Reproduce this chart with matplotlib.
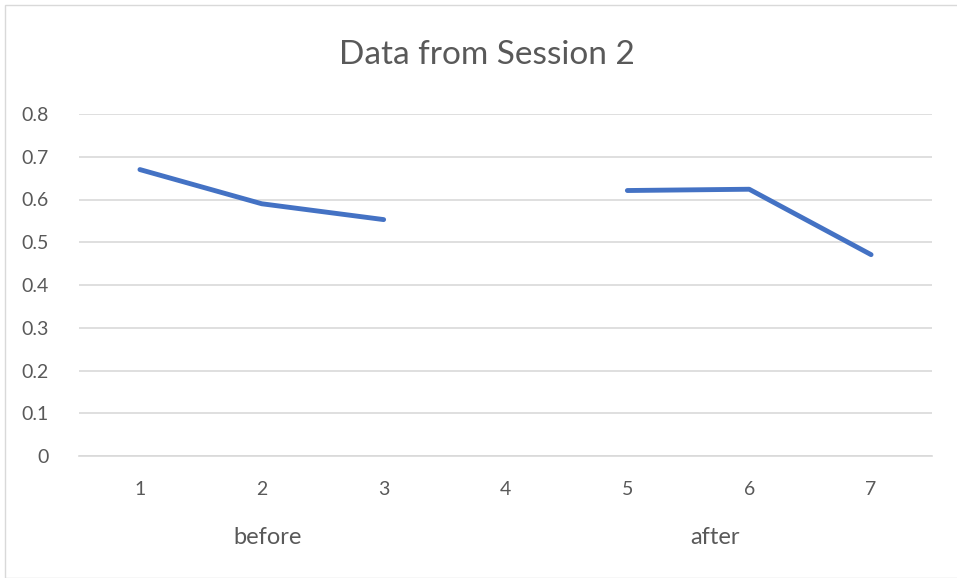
import matplotlib.pyplot as plt
from matplotlib.patches import Rectangle

plt.rcParams['font.family'] = ['Lato', 'DejaVu Sans']

categories = [1, 2, 3, 4, 5, 6, 7]
before_vals = [0.670, 0.590, 0.553]
after_vals = [0.621, 0.624, 0.471]
groups = ['before', 'after']

fig = plt.figure(figsize=(9.57, 5.78), dpi=100)
ax = fig.add_axes([79/957, 1 - 456/578, (932-79)/957, (456-114)/578])

ax.plot(categories[:3], before_vals, color='#4472C4', lw=3.5, solid_capstyle='round', solid_joinstyle='round')
ax.plot(categories[4:], after_vals, color='#4472C4', lw=3.5, solid_capstyle='round', solid_joinstyle='round')

ax.set_xlim(0.5, 7.5)
ax.set_ylim(0, 0.8)
ax.set_yticks([i / 10 for i in range(9)])
ax.set_yticklabels(['0'] + [f'{i/10:.1f}' for i in range(1, 9)])
ax.set_xticks(categories)
ax.set_xticklabels([str(c) for c in categories])
ax.grid(axis='y', color='#d9d9d9', lw=1.2)
ax.set_axisbelow(True)
for s in ['top', 'right', 'left']:
    ax.spines[s].set_visible(False)
ax.spines['bottom'].set_color('#d9d9d9')
ax.spines['bottom'].set_linewidth(1.2)
ax.tick_params(length=0, labelsize=14, colors='#595959')
ax.tick_params(axis='x', pad=18)
ax.tick_params(axis='y', pad=22)

fig.text(268/957, 1 - 538/578, groups[0], ha='center', va='center', fontsize=17, color='#595959')
fig.text(715/957, 1 - 538/578, groups[1], ha='center', va='center', fontsize=17, color='#595959')
fig.text(487/957, 1 - 55/578, 'Data from Session 2', ha='center', va='center', fontsize=24, color='#595959')

fig.patches.append(Rectangle((5/957, 0), 1, 1 - 5/578, transform=fig.transFigure,
                             fill=False, edgecolor='#d9d9d9', lw=1))

fig.savefig('out.png', dpi=100)
